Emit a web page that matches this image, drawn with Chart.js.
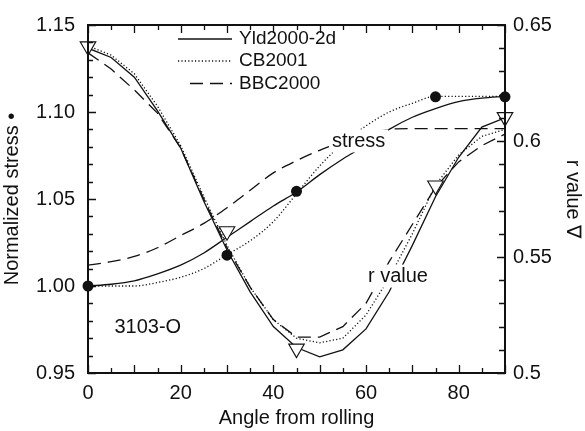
<!DOCTYPE html>
<html>
<head>
<meta charset="utf-8">
<script src="https://cdn.jsdelivr.net/npm/chart.js@4"></script>
<style>
  html, body { margin: 0; padding: 0; background: #fff; }
  canvas { display: block; }
</style>
</head>
<body>
<canvas id="chart" width="585" height="431"></canvas>
<script>
// --- Data ---
const angles = [0, 5, 10, 15, 20, 25, 30, 35, 40, 45, 50, 55, 60, 65, 70, 75, 80, 85, 90];

// normalized stress (left axis)
const stressYld = [1.000, 1.001, 1.003, 1.007, 1.012, 1.019, 1.028, 1.037, 1.046, 1.054, 1.064, 1.073, 1.081, 1.090, 1.097, 1.102, 1.106, 1.108, 1.109];
const stressCB = [1.000, 1.000, 1.000, 1.002, 1.005, 1.010, 1.018, 1.026, 1.037, 1.053, 1.069, 1.082, 1.092, 1.100, 1.105, 1.109, 1.109, 1.109, 1.109];
const stressBBC = [1.012, 1.014, 1.017, 1.022, 1.029, 1.036, 1.045, 1.055, 1.065, 1.072, 1.078, 1.083, 1.087, 1.090, 1.0905, 1.0905, 1.0905, 1.0905, 1.0905];

// r value (right axis)
const rYld = [0.640, 0.636, 0.6275, 0.613, 0.597, 0.574, 0.553, 0.535, 0.520, 0.511, 0.507, 0.510, 0.519, 0.535, 0.555, 0.576, 0.593, 0.606, 0.610];
const rCB = [0.641, 0.637, 0.629, 0.615, 0.598, 0.576, 0.555, 0.537, 0.523, 0.515, 0.513, 0.515, 0.525, 0.541, 0.560, 0.581, 0.594, 0.602, 0.605];
const rBBC = [0.638, 0.631, 0.622, 0.612, 0.597, 0.575, 0.554, 0.537, 0.523, 0.5155, 0.5155, 0.520, 0.530, 0.548, 0.564, 0.580, 0.591, 0.598, 0.603];

// experiments
const expAngles = [0, 30, 45, 75, 90];
const expStress = [1.000, 1.0177, 1.0544, 1.1087, 1.1087];
const expR = [0.6408, 0.5611, 0.5105, 0.5808, 0.6103];

// axes
const xTicks = [0, 20, 40, 60, 80];
const stressTicks = [0.95, 1.00, 1.05, 1.10, 1.15];
const rTicks = [0.5, 0.55, 0.6, 0.65];

const legendNames = ['Yld2000-2d', 'CB2001', 'BBC2000'];

const FONT = '"Liberation Sans", Arial, Helvetica, sans-serif';
const INK = '#111';

const SOLID = [];
const DOTTED = [1.2, 2.2];
const DASHED = [13, 7];
const styles = [SOLID, DOTTED, DASHED];

const toXY = (xs, ys) => xs.map((x, i) => ({ x, y: ys[i] }));

const curve = (data, dash, axis, smooth) => ({
    data: toXY(angles, data),
    yAxisID: axis,
    borderColor: INK,
    borderWidth: 1.3,
    borderDash: dash,
    pointRadius: 0,
    fill: false,
    cubicInterpolationMode: smooth ? 'monotone' : 'default',
    tension: 0,
    order: 2
});

// --- Text notes placed in data coords ---
const notes = [
    { text: 'stress', x: 58.4, y: 1.0831, mask: true },
    { text: 'r value', x: 66.9, y: 1.0054, mask: true },
    { text: '3103-O', x: 12.9, y: 0.976, mask: false }
];

const notesPlugin = {
    id: 'notes',
    afterDatasetsDraw(chart) {
        const { ctx, scales: { x, y } } = chart;
        ctx.save();
        ctx.font = '20px ' + FONT;
        ctx.textAlign = 'center';
        ctx.textBaseline = 'middle';
        notes.forEach(n => {
            const px = x.getPixelForValue(n.x);
            const py = y.getPixelForValue(n.y);
            if (n.mask) {
                const w = ctx.measureText(n.text).width;
                ctx.fillStyle = '#fff';
                ctx.fillRect(px - w / 2 - 3, py - 12, w + 6, 23);
            }
            ctx.fillStyle = INK;
            ctx.fillText(n.text, px, py);
        });
        ctx.restore();
    }
};

// --- Frame, inward ticks and legend ---
const framePlugin = {
    id: 'frame',
    afterDraw(chart) {
        const { ctx, chartArea: a, scales: { x, y, y2 } } = chart;
        ctx.save();
        ctx.strokeStyle = INK;
        ctx.lineWidth = 1.3;
        ctx.beginPath();
        for (let v = 0; v <= 90; v += 5) {
            const px = Math.round(x.getPixelForValue(v)) + 0.5;
            const len = v % 10 === 0 ? 8 : 5;
            ctx.moveTo(px, a.bottom); ctx.lineTo(px, a.bottom - len);
            ctx.moveTo(px, a.top); ctx.lineTo(px, a.top + len);
        }
        for (let i = 95; i <= 115; i++) {
            const py = Math.round(y.getPixelForValue(i / 100)) + 0.5;
            const len = i % 5 === 0 ? 8 : 5;
            ctx.moveTo(a.left, py); ctx.lineTo(a.left + len, py);
        }
        for (let i = 50; i <= 65; i++) {
            const py = Math.round(y2.getPixelForValue(i / 100)) + 0.5;
            const len = i % 5 === 0 ? 8 : 6;
            ctx.moveTo(a.right, py); ctx.lineTo(a.right - len, py);
        }
        ctx.stroke();

        ctx.lineWidth = 2;
        ctx.strokeRect(a.left, a.top, a.width, a.height);

        // legend
        ctx.font = '19px ' + FONT;
        ctx.textBaseline = 'middle';
        ctx.textAlign = 'left';
        ctx.fillStyle = INK;
        ctx.lineWidth = 1.3;
        const rowY = [39, 61, 83.5];
        const lineStart = [178, 178, 190];
        legendNames.forEach((name, i) => {
            ctx.setLineDash(styles[i]);
            ctx.beginPath();
            ctx.moveTo(lineStart[i], rowY[i]);
            ctx.lineTo(232, rowY[i]);
            ctx.stroke();
            ctx.fillText(name, 239, rowY[i]);
        });
        ctx.restore();
    }
};

const fixSize = (prop, val) => (scale) => { scale[prop] = val; };

new Chart(document.getElementById('chart'), {
    type: 'line',
    data: {
        datasets: [
            {
                data: toXY(expAngles, expStress),
                yAxisID: 'y',
                showLine: false,
                pointStyle: 'circle',
                pointRadius: 5.5,
                pointBackgroundColor: INK,
                pointBorderColor: INK,
                pointBorderWidth: 0,
                clip: false,
                order: 0
            },
            {
                data: toXY(expAngles, expR),
                yAxisID: 'y2',
                showLine: false,
                pointStyle: 'triangle',
                rotation: 180,
                pointRotation: 180,
                pointRadius: 9,
                pointBackgroundColor: '#fff',
                pointBorderColor: INK,
                pointBorderWidth: 1.1,
                clip: false,
                order: 0
            },
            curve(stressYld, styles[0], 'y', true),
            curve(stressCB, styles[1], 'y', true),
            curve(stressBBC, styles[2], 'y', true),
            curve(rYld, styles[0], 'y2', false),
            curve(rCB, styles[1], 'y2', false),
            curve(rBBC, styles[2], 'y2', false)
        ]
    },
    options: {
        responsive: false,
        animation: false,
        devicePixelRatio: 1,
        layout: { padding: { top: 19, left: 0, right: 0, bottom: 0 } },
        plugins: {
            legend: { display: false },
            tooltip: { enabled: false }
        },
        scales: {
            x: {
                type: 'linear',
                min: 0,
                max: 90,
                afterFit: fixSize('height', 58),
                afterBuildTicks: (s) => { s.ticks = xTicks.map(v => ({ value: v })); },
                grid: { display: false, drawTicks: false },
                border: { display: false },
                ticks: { color: INK, font: { family: FONT, size: 20 }, padding: 8, maxRotation: 0 },
                title: { display: true, text: 'Angle from rolling', color: INK, font: { family: FONT, size: 20 }, padding: { top: 0, bottom: 1 } }
            },
            y: {
                position: 'left',
                min: 0.95,
                max: 1.15,
                afterFit: fixSize('width', 88),
                afterBuildTicks: (s) => { s.ticks = stressTicks.map(v => ({ value: v })); },
                grid: { display: false, drawTicks: false },
                border: { display: false },
                ticks: { color: INK, font: { family: FONT, size: 20 }, padding: 13, callback: v => v.toFixed(2) },
                title: { display: true, text: 'Normalized stress •', color: INK, font: { family: FONT, size: 20 }, padding: { top: 0, bottom: 6 } }
            },
            y2: {
                position: 'right',
                min: 0.5,
                max: 0.65,
                afterFit: fixSize('width', 80),
                afterBuildTicks: (s) => { s.ticks = rTicks.map(v => ({ value: v })); },
                grid: { display: false, drawTicks: false },
                border: { display: false },
                ticks: { color: INK, font: { family: FONT, size: 20 }, padding: 8, callback: v => String(+v.toFixed(2)) },
                title: { display: true, text: 'r value ∇', color: INK, font: { family: FONT, size: 20 }, padding: { top: 0, bottom: 2 } }
            }
        }
    },
    plugins: [notesPlugin, framePlugin]
});
</script>
</body>
</html>
